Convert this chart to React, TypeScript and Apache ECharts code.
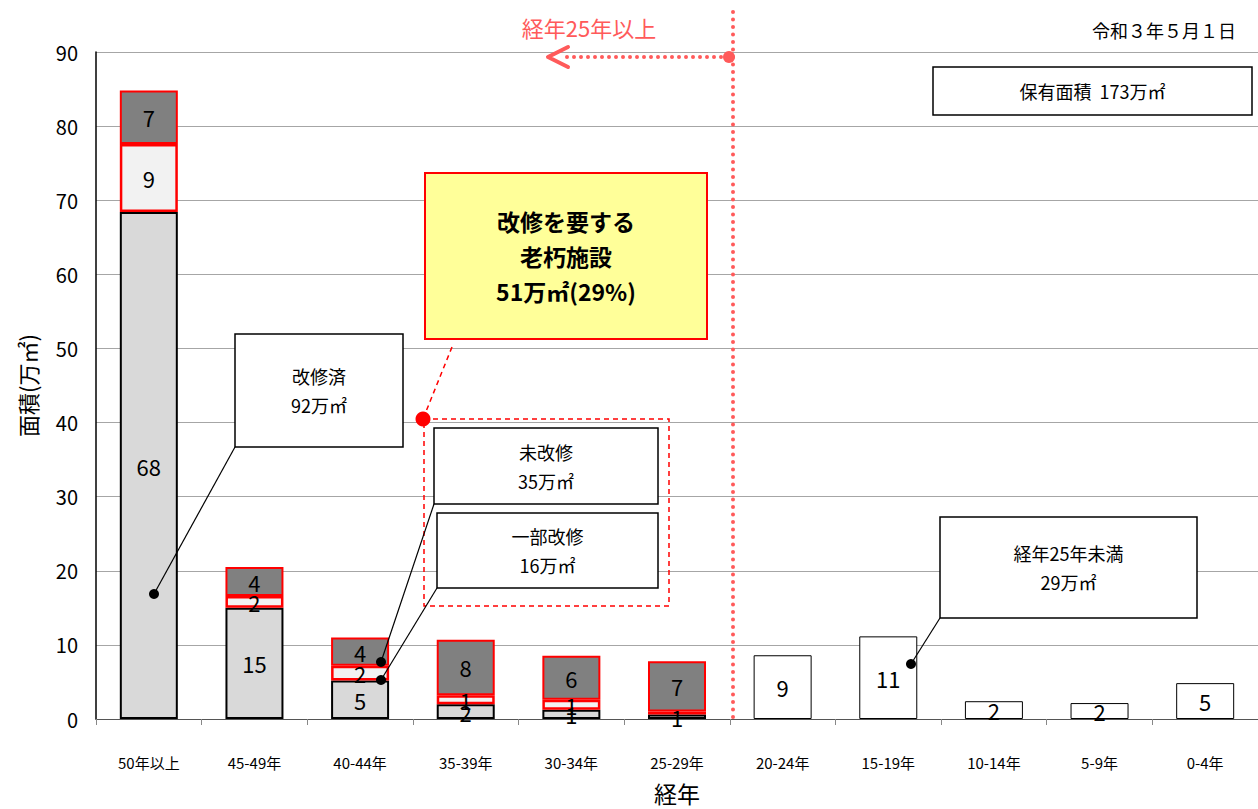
import React, { useEffect, useRef } from "react";
import * as echarts from "echarts";

const categories = ["50年以上", "45-49年", "40-44年", "35-39年", "30-34年", "25-29年", "20-24年", "15-19年", "10-14年", "5-9年", "0-4年"];
const repaired = [68.4, 15.0, 5.2, 2.0, 1.25, 0.6, null, null, null, null, null];
const partial = [9.2, 1.6, 2.0, 1.2, 1.35, 0.4, null, null, null, null, null];
const unrepaired = [7.2, 3.9, 3.8, 7.5, 5.95, 6.8, null, null, null, null, null];
const under25 = [null, null, null, null, null, null, 8.6, 11.15, 2.4, 2.15, 4.84];
const yTicks = [0, 90, 10];

const FONT = "'Noto Sans CJK JP', 'Noto Sans', sans-serif";
const RED = "#ff5a5a";

const labelCfg = {
  show: true,
  position: "inside" as const,
  color: "#000",
  fontSize: 22,
  fontFamily: FONT,
  formatter: (p: any) => {
    const v = Math.round(p.value);
    return v > 0 ? String(v) : "";
  },
};

function boxWithText(x: number, y: number, w: number, h: number, lines: string[], fontSize: number, extra: any = {}) {
  return [
    {
      type: "rect",
      shape: { x, y, width: w, height: h },
      style: { fill: "#fff", stroke: "#000", lineWidth: 1.5, ...(extra.rect || {}) },
      z: 100,
    },
    {
      type: "text",
      x: x + w / 2,
      y: y + h / 2,
      style: {
        text: lines.join("\n"),
        fontSize,
        fontFamily: FONT,
        fill: "#000",
        align: "center",
        verticalAlign: "middle",
        lineHeight: extra.lineHeight || 29,
        fontWeight: extra.fontWeight || "normal",
      },
      z: 101,
    },
  ];
}

function leader(x1: number, y1: number, x2: number, y2: number) {
  return [
    { type: "line", shape: { x1, y1, x2, y2 }, style: { stroke: "#000", lineWidth: 1.2 }, z: 110 },
    { type: "circle", shape: { cx: x2, cy: y2, r: 5 }, style: { fill: "#000" }, z: 111 },
  ];
}

export default function App() {
  const ref = useRef<HTMLDivElement>(null);
  useEffect(() => {
    const chart = echarts.init(ref.current!, null, { renderer: "svg" });
    const graphic: any[] = [
      {
        type: "text",
        x: 1236,
        y: 30,
        style: { text: "令和３年５月１日", fontSize: 18, fontFamily: FONT, fill: "#000", align: "right", verticalAlign: "middle" },
      },
      ...boxWithText(933, 67, 319, 48, ["保有面積  173万㎡"], 18),
      {
        type: "line",
        shape: { x1: 733, y1: 12, x2: 733, y2: 722 },
        style: { stroke: RED, lineWidth: 4, lineDash: [0, 7.5], lineCap: "round" },
        z: 90,
      },
      {
        type: "line",
        shape: { x1: 728, y1: 57, x2: 560, y2: 57 },
        style: { stroke: RED, lineWidth: 4, lineDash: [0, 7], lineCap: "round" },
        z: 90,
      },
      { type: "circle", shape: { cx: 729, cy: 57, r: 6 }, style: { fill: RED }, z: 91 },
      {
        type: "polyline",
        shape: { points: [[568, 47], [548, 57], [568, 67]] },
        style: { stroke: RED, lineWidth: 4, fill: "none", lineCap: "round", lineJoin: "round" },
        z: 91,
      },
      {
        type: "text",
        x: 589,
        y: 27,
        style: { text: "経年25年以上", fontSize: 22, fontFamily: FONT, fill: RED, align: "center", verticalAlign: "middle" },
      },
      ...boxWithText(425, 173, 282, 166, ["改修を要する", "老朽施設", "51万㎡(29%)"], 23, {
        rect: { fill: "#ffff99", stroke: "#ff0000", lineWidth: 2 },
        lineHeight: 35,
        fontWeight: "bold",
      }),
      {
        type: "line",
        shape: { x1: 452, y1: 347, x2: 423, y2: 419 },
        style: { stroke: "#ff0000", lineWidth: 1.5, lineDash: [5, 4] },
        z: 95,
      },
      {
        type: "rect",
        shape: { x: 424, y: 419, width: 245, height: 187 },
        style: { fill: "none", stroke: "#ff0000", lineWidth: 1.5, lineDash: [5, 4] },
        z: 95,
      },
      { type: "circle", shape: { cx: 423, cy: 419, r: 7.5 }, style: { fill: "#ff0000" }, z: 96 },
      ...boxWithText(434, 428, 224, 76, ["未改修", "35万㎡"], 18),
      ...boxWithText(437, 513, 221, 75, ["一部改修", "16万㎡"], 18),
      ...boxWithText(235, 334, 168, 113, ["改修済", "92万㎡"], 18),
      ...boxWithText(940, 517, 257, 101, ["経年25年未満", "29万㎡"], 18),
      ...leader(235, 447, 154, 594),
      ...leader(434, 504, 381, 662),
      ...leader(437, 588, 381, 680),
      ...leader(940, 618, 911, 664),
    ];

    chart.setOption({
      animation: false,
      backgroundColor: "#fff",
      textStyle: { fontFamily: FONT },
      grid: { left: 96, right: 0, top: 52, bottom: 87, containLabel: false },
      xAxis: {
        type: "category",
        data: categories,
        name: "経年",
        nameLocation: "middle",
        nameGap: 62,
        nameTextStyle: { fontSize: 23, color: "#000", fontFamily: FONT },
        axisLine: { lineStyle: { color: "#555", width: 1.2 } },
        axisTick: { show: true, length: 6, lineStyle: { color: "#888" } },
        axisLabel: { fontSize: 15, color: "#000", margin: 36, fontFamily: FONT },
      },
      yAxis: {
        type: "value",
        min: yTicks[0],
        max: yTicks[1],
        interval: yTicks[2],
        name: "面積(万㎡)",
        nameLocation: "middle",
        nameGap: 58,
        nameRotate: 90,
        nameTextStyle: { fontSize: 22, color: "#000", fontFamily: FONT },
        axisLine: { show: true, lineStyle: { color: "#000", width: 1.5 } },
        axisTick: { show: false },
        axisLabel: { fontSize: 20, color: "#000", margin: 18, fontFamily: FONT },
        splitLine: { lineStyle: { color: "#a6a6a6", width: 1.2 } },
      },
      series: [
        {
          name: "改修済",
          type: "bar",
          stack: "a",
          barWidth: 58,
          data: repaired,
          itemStyle: { color: "#d9d9d9", borderColor: "#000", borderWidth: 2 },
          label: labelCfg,
        },
        {
          name: "一部改修",
          type: "bar",
          stack: "a",
          barWidth: 58,
          data: partial,
          itemStyle: { color: "#f2f2f2", borderColor: "#ff0000", borderWidth: 2.5 },
          label: labelCfg,
        },
        {
          name: "未改修",
          type: "bar",
          stack: "a",
          barWidth: 58,
          data: unrepaired,
          itemStyle: { color: "#808080", borderColor: "#ff0000", borderWidth: 2 },
          label: labelCfg,
        },
        {
          name: "経年25年未満",
          type: "bar",
          stack: "a",
          barWidth: 58,
          data: under25,
          itemStyle: { color: "#fff", borderColor: "#000", borderWidth: 1 },
          label: labelCfg,
        },
      ],
      graphic,
    });
    return () => chart.dispose();
  }, []);
  return <div ref={ref} style={{ position: "absolute", left: 0, top: 0, width: 1258, height: 809 }} />;
}
